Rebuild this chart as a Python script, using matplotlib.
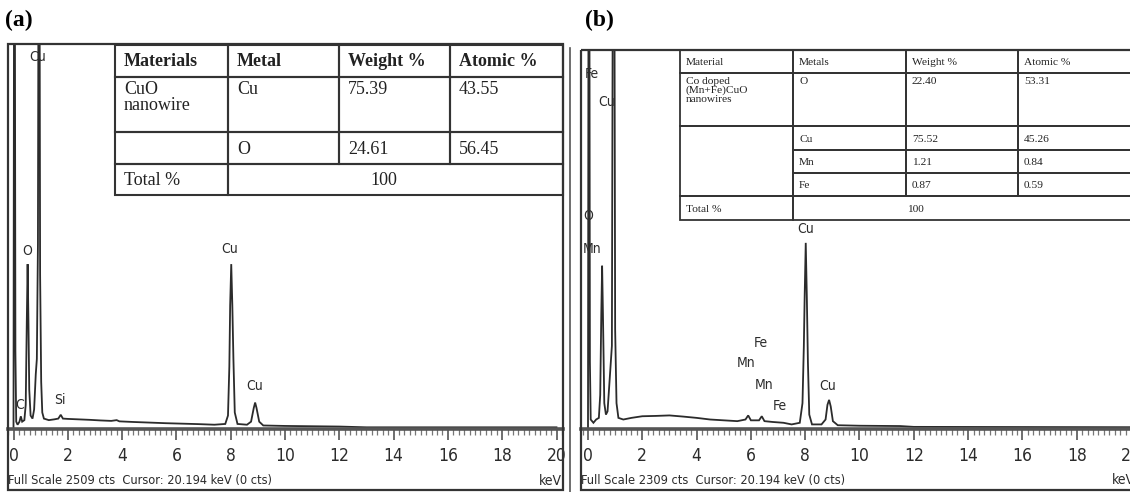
import matplotlib.pyplot as plt
from matplotlib.patches import Rectangle
from matplotlib.ticker import MultipleLocator
from matplotlib import font_manager

W, H = 1130, 492

# ---- spectrum (a): CuO nanowire (keV, cts)
energy_a = [0.0, 0.02, 0.05, 0.07, 0.1, 0.15, 0.22, 0.27, 0.32, 0.4, 0.45, 0.49,
            0.52, 0.55, 0.58, 0.63, 0.7, 0.76, 0.82, 0.86, 0.9, 0.92, 0.96, 0.98,
            1.02, 1.06, 1.12, 1.3, 1.5, 1.65, 1.74, 1.82, 2.0, 2.4, 2.8, 3.2, 3.6,
            3.8, 3.9, 4.4, 5.0, 5.6, 6.2, 6.8, 7.4, 7.8, 7.9, 7.95, 7.98, 8.02,
            8.06, 8.1, 8.15, 8.25, 8.6, 8.75, 8.85, 8.9, 8.95, 9.05, 9.2, 10.0,
            11.0, 12.0, 13.0, 20.0]
counts_a = [0, 3000, 3000, 500, 40, 20, 40, 75, 40, 50, 150, 700,
            1070, 700, 250, 80, 60, 120, 350, 450, 1200, 3000, 3000, 1000,
            300, 100, 60, 50, 55, 60, 85, 60, 58, 55, 52, 48, 45,
            50, 42, 38, 34, 30, 27, 24, 20, 25, 80, 400, 800, 1070,
            800, 450, 100, 25, 20, 40, 130, 165, 130, 40, 15, 12,
            10, 8, 3, 3]
label_text_a = ['Cu', 'O', 'C', 'Si', 'Cu', 'Cu']
label_kev_a = [0.9, 0.5, 0.24, 1.71, 7.97, 8.89]
label_cts_a = [2424, 1153, 150, 183, 1166, 275]
full_scale_a = 2509

# ---- spectrum (b): Co doped (Mn+Fe)CuO nanowires
energy_b = [0.0, 0.02, 0.05, 0.07, 0.1, 0.2, 0.3, 0.4, 0.45, 0.49, 0.52, 0.55,
            0.6, 0.66, 0.72, 0.78, 0.84, 0.88, 0.91, 0.93, 0.97, 1.0, 1.05, 1.12,
            1.3, 1.6, 2.0, 2.5, 3.0, 3.5, 4.0, 4.5, 5.0, 5.5, 5.8, 5.9, 6.0, 6.3,
            6.4, 6.5, 6.8, 7.2, 7.5, 7.8, 7.9, 7.95, 7.98, 8.02, 8.06, 8.1, 8.15,
            8.25, 8.6, 8.75, 8.82, 8.88, 8.94, 9.02, 9.2, 10.0, 11.5, 12.0, 20.0]
counts_b = [0, 3000, 3000, 400, 50, 30, 50, 60, 200, 700, 990, 700,
            150, 80, 100, 250, 400, 500, 2600, 3000, 3000, 600, 150, 60,
            50, 60, 70, 72, 75, 68, 60, 50, 45, 40, 50, 75, 45, 45,
            70, 40, 35, 30, 20, 30, 150, 500, 800, 1130, 800, 400, 80,
            20, 20, 50, 140, 170, 130, 40, 15, 12, 10, 5, 3]
label_text_b = ['Fe', 'Cu', 'O', 'Mn', 'Cu', 'Fe', 'Mn', 'Mn', 'Fe', 'Cu']
label_kev_b = [0.15, 0.7, 0.0, 0.15, 8.0, 6.35, 5.83, 6.5, 7.05, 8.82]
label_cts_b = [2165, 1994, 1295, 1094, 1216, 517, 395, 261, 134, 255]
full_scale_b = 2309

tick_kev = [0, 2, 4, 6, 8, 10, 12, 14, 16, 18, 20]
cursor_text = 'Cursor: 20.194 keV (0 cts)'

# ---- tables
table_a = [['Materials', 'Metal', 'Weight %', 'Atomic %'],
           ['CuO\nnanowire', 'Cu', '75.39', '43.55'],
           ['', 'O', '24.61', '56.45']]
total_a = ['Total %', '100']

table_b = [['Material', 'Metals', 'Weight %', 'Atomic %'],
           ['Co doped\n(Mn+Fe)CuO\nnanowires', 'O', '22.40', '53.31'],
           ['', 'Cu', '75.52', '45.26'],
           ['', 'Mn', '1.21', '0.84'],
           ['', 'Fe', '0.87', '0.59']]
total_b = ['Total %', '100']

# condensed sans for the instrument text, if one is installed
names = {f.name for f in font_manager.fontManager.ttflist}
NARROW = [n for n in ['Liberation Sans Narrow', 'DejaVu Sans Condensed']
          if n in names] + ['DejaVu Sans']
SERIF = ['Liberation Serif', 'DejaVu Serif']
GREY = '#2b2b2b'
nk = dict(family=NARROW, stretch='condensed')

fig = plt.figure(figsize=(W / 100, H / 100), dpi=100)


def px_axes(l, t, r, b):
    return fig.add_axes([l / W, 1 - b / H, (r - l) / W, (b - t) / H])


def spectrum(l, t, r, b, zero_px, energy, counts, full, labels, lab_kev, lab_cts,
             scale_text):
    ax = px_axes(l, t, r, b)
    kev_px = 27.15
    ax.set_xlim((l - zero_px) / kev_px, (r - zero_px) / kev_px)
    ax.set_ylim(-8, full)
    ax.patch.set_alpha(0)
    ax.plot(energy, counts, color=GREY, lw=1.3, solid_joinstyle='miter')
    for s in ['top', 'left', 'right']:
        ax.spines[s].set_visible(False)
    ax.spines['bottom'].set_linewidth(2.6)
    ax.spines['bottom'].set_color('#555555')
    ax.set_yticks([])
    ax.set_xticks(tick_kev)
    ax.xaxis.set_minor_locator(MultipleLocator(0.2))
    ax.tick_params(axis='x', which='major', direction='out', length=8, width=1.2,
                   color='#555555', pad=5)
    ax.tick_params(axis='x', which='minor', direction='out', length=4, width=0.9,
                   color='#777777')
    for lab in ax.get_xticklabels():
        lab.set_family(NARROW)
        lab.set_stretch('condensed')
        lab.set_fontsize(12.5)
        lab.set_color(GREY)
    for txt, x, y in zip(labels, lab_kev, lab_cts):
        ax.text(x, y, txt, fontsize=10, color=GREY, ha='center', va='center', **nk)
    ax.text(0, -0.135, scale_text, transform=ax.transAxes,
            fontsize=9.2, color=GREY, ha='left', va='center', **nk)
    ax.text((r - 1 - l) / (r - l), -0.135, 'keV', transform=ax.transAxes,
            fontsize=10, color=GREY, ha='right', va='center', **nk)
    return ax


spectrum(8, 44, 563, 429, 13.5, energy_a, counts_a, full_scale_a,
         label_text_a, label_kev_a, label_cts_a,
         'Full Scale %d cts  %s' % (full_scale_a, cursor_text))
spectrum(581, 50, 1136, 429, 588, energy_b, counts_b, full_scale_b,
         label_text_b, label_kev_b, label_cts_b,
         'Full Scale %d cts  %s' % (full_scale_b, cursor_text))

# overlay in pixel coordinates for frames and tables
ov = fig.add_axes([0, 0, 1, 1])
ov.set_xlim(0, W)
ov.set_ylim(H, 0)
ov.axis('off')
ov.patch.set_visible(False)

ov.add_patch(Rectangle((8, 44), 555, 446, fill=False, lw=1.6, ec='#333333'))
ov.add_patch(Rectangle((581, 50), 555, 440, fill=False, lw=1.6, ec='#333333'))
ov.plot([570, 570], [48, 492], color='#555555', lw=1.2)

ov.text(5, 20, '(a)', family=SERIF, fontsize=17, fontweight='bold', va='center')
ov.text(585, 20, '(b)', family=SERIF, fontsize=17, fontweight='bold', va='center')


def draw_table(cols, rows, body, total, size, pad, bold_head, total_x, total_ha, lw):
    n = len(body)
    cells = []
    for i, row in enumerate(body):
        for j, txt in enumerate(row):
            if i >= 2 and j == 0:
                continue
            cells.append((i, i + 1, j, j + 1, txt))
    cells.append((2, n, 0, 1, ''))            # blank material cell, lower block
    cells.append((n, n + 1, 0, 1, total[0]))
    cells.append((n, n + 1, 1, 4, ''))
    for r0, r1, c0, c1, txt in cells:
        x0, x1 = cols[c0], cols[c1]
        y0, y1 = rows[r0], rows[r1]
        ov.add_patch(Rectangle((x0, y0), x1 - x0, y1 - y0, fill=False,
                               lw=lw, ec='#333333'))
        if not txt:
            continue
        weight = 'bold' if (r0 == 0 and bold_head) else 'normal'
        if r0 == 1:
            ov.text(x0 + pad, y0 + 4, txt, family=SERIF, fontsize=size,
                    fontweight=weight, va='top', ha='left', linespacing=0.95,
                    color='#222222')
        else:
            ov.text(x0 + pad, (y0 + y1) / 2 + 1, txt, family=SERIF, fontsize=size,
                    fontweight=weight, va='center', ha='left', color='#222222')
    ov.text(total_x, (rows[n] + rows[n + 1]) / 2 + 1, total[1], family=SERIF,
            fontsize=size, va='center', ha=total_ha, color='#222222')


draw_table([115, 228, 339, 450, 563], [45, 77, 132, 164, 195], table_a, total_a,
           13, 9, True, 384, 'center', 1.5)
draw_table([680, 793, 906, 1018, 1131], [50, 73, 126, 150, 173, 196, 220],
           table_b, total_b, 8.2, 6, False, 907, 'left', 1.3)

fig.savefig('out.png', dpi=100)
